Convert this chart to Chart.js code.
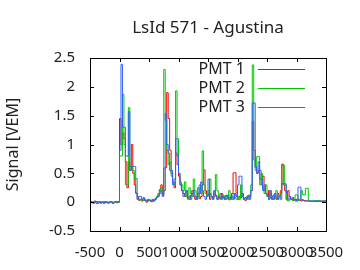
<!DOCTYPE html>
<html>
<head>
<meta charset="utf-8">
<script src="https://cdn.jsdelivr.net/npm/chart.js@4/dist/chart.umd.min.js"></script>
<style>
  body { margin: 0; background: #fff; }
</style>
</head>
<body>
<canvas id="trace" width="360" height="270"></canvas>
<script>
"use strict";

// trace bins: 25 ns wide, starting at -500 ns
let binWidth = 25;
let firstBin = -500;

let pmt1 = [
  0.01, -0.01, 0, 0.02, -0.02, 0, 0.01, -0.01, 0, -0.02, 0.01, 0, -0.02, 0, 0.01, -0.02, 0, 0.01, -0.01, 0,
  1.45, 1.0, 1.2, 1.1, 0.7, 0.25, 0.7, 0.55, 1.0, 0.5, 0.3, 0.15, 0.05, 0.03,
  0.05, 0.02, 0.06, 0.03, 0, 0.02, 0.04, 0.01, 0.03, 0.02, 0.05, 0.08, 0.12, 0.22,
  0.3, 0.12, 0.2, 0.6, 1.9, 1.45, 0.9, 0.5, 0.35, 0.25, 0.85, 0.65,
  0.45, 0.3, 0.2, 0.15, 0.1, 0.2, 0.08, 0.05, 0.12, 0.2, 0.1, 0.05, 0.08, 0.15, 0.06, 0.1, 0.3, 0.56, 0.2, 0.1,
  0.15, 0.05, 0.1, 0.08, 0.2, 0.12, 0.05, 0.1, 0.06, 0.15, 0.08, 0.05, 0.12, 0.1, 0.04, 0.08, 0.15, 0.51, 0.51, 0.1,
  0.05, 0.1, 0.08, 0.15, 0.05, 0.03, 0.08, 0.12, 0.1, 0.2, 1.4, 0.9, 0.6, 0.5, 0.55, 0.4, 0.3, 0.45, 0.2, 0.15,
  0.1, 0.2, 0.08, 0.05, 0.12, 0.1, 0.05, 0.15, 0.1, 0.2, 0.66, 0.3, 0.2, 0.05, 0.2, 0.1, 0.05, 0.08, 0.03, 0.05,
  0.02, 0.05, 0.03, 0.02, 0.04, 0.02, 0.03, 0.02, 0.02, 0.01, 0.02, 0.01, 0.02, 0.01, 0.01, 0.02, 0.01, 0.01, 0.02, 0.01
];

let pmt2 = [
  0, 0.01, -0.01, 0, 0.01, -0.02, 0, 0.01, 0, -0.01, 0, 0.01, -0.01, 0, 0.01, 0, -0.01, 0, 0.01, 0,
  0.8, 0.8, 1.87, 1.0, 0.3, 0.3, 1.64, 0.62, 0.62, 0.55, 0.41, 0.41, 0.1, 0.05,
  0.04, 0.02, 0.03, 0.05, 0.01, 0.02, 0.03, 0.02, 0.01, 0.04, 0.06, 0.1, 0.15, 0.18,
  0.25, 0.15, 2.3, 1.42, 0.9, 0.65, 0.69, 0.45, 0.35, 0.3, 1.93, 1.1,
  0.5, 0.35, 0.3, 0.2, 0.35, 0.1, 0.05, 0.25, 0.15, 0.1, 0.4, 0.2, 0.05, 0.1, 0.3, 0.15, 0.89, 0.3, 0.15, 0.1,
  0.2, 0.4, 0.1, 0.05, 0.15, 0.48, 0.2, 0.1, 0.05, 0.08, 0.12, 0.05, 0.1, 0.06, 0.2, 0.1, 0.05, 0.15, 0.08, 0.05,
  0.1, 0.05, 0.3, 0.1, 0.05, 0.08, 0.1, 0.05, 0.12, 0.3, 2.38, 0.73, 0.55, 0.79, 0.79, 0.3, 0.5, 0.25, 0.15, 0.3,
  0.1, 0.05, 0.15, 0.08, 0.05, 0.1, 0.2, 0.05, 0.1, 0.15, 0.64, 0.64, 0.3, 0.04, 0.02, 0.04, 0.05, 0.03, 0.04, 0.125,
  0.125, 0.03, 0.05, 0.2, 0.13, 0.13, 0.24, 0.24, 0.03, 0.02, 0.02, 0.02, 0.03, 0.03, 0.03, 0.03, 0.02, 0.02, 0.02, 0.02
];

let pmt3 = [
  -0.01, 0, -0.02, 0, 0.01, -0.01, 0, -0.02, 0, 0.01, -0.01, 0, -0.01, 0.01, 0, -0.02, 0, 0.01, 0, 0.01,
  0.9, 2.39, 1.3, 1.3, 0.8, 0.8, 1.57, 0.55, 0.62, 0.62, 0.62, 0.16, 0.05, 0.1,
  0.1, 0.05, 0.08, 0.03, 0.02, 0.05, 0.03, 0.02, 0.05, 0.03, 0.06, 0.08, 0.1, 0.15,
  0.2, 0.1, 0.59, 1.54, 1.0, 0.85, 0.55, 0.55, 0.3, 0.4, 1.1, 0.8,
  0.5, 0.3, 0.2, 0.1, 0.15, 0.2, 0.08, 0.1, 0.05, 0.15, 0.2, 0.1, 0.05, 0.25, 0.15, 0.35, 0.2, 0.1, 0.05, 0.1,
  0.4, 0.15, 0.1, 0.05, 0.2, 0.1, 0.05, 0.08, 0.15, 0.05, 0.1, 0.06, 0.05, 0.12, 0.08, 0.05, 0.1, 0.05, 0.15, 0.1,
  0.3, 0.45, 0.45, 0.1, 0.05, 0.08, 0.05, 0.1, 0.05, 0.2, 1.72, 1.72, 0.62, 0.5, 0.7, 0.55, 0.4, 0.2, 0.3, 0.15,
  0.1, 0.05, 0.2, 0.1, 0.05, 0.15, 0.08, 0.05, 0.1, 0.05, 0.32, 0.32, 0.32, 0.17, 0.05, 0.1, 0.05, 0.05, 0.05, 0.02,
  0.05, 0.26, 0.26, 0.05, 0.03, 0.02, 0.02, 0.02, 0.02, 0.02, 0.02, 0.02, 0.02, 0.02, 0.02, 0.02, 0.02, 0.02, 0.02, 0.02
];

let seriesNames = ["PMT 1", "PMT 2", "PMT 3"];
let seriesColors = ["#ff0000", "#00c800", "#3060ff"];
let chartTitle = "LsId 571 - Agustina";

let xMin = -500, xMax = 3500, xStep = 500;
let yMin = -0.5, yMax = 2.5, yStep = 0.5;

let fontName = "'Noto Sans', sans-serif";
let textColor = "#222";

// histogram points: one per bin start, plus closing point at the end
function toPoints(values) {
  let pts = [];
  for (let i = 0; i < values.length; i++) {
    pts.push({ x: firstBin + i * binWidth, y: values[i] });
  }
  pts.push({ x: firstBin + values.length * binWidth, y: values[values.length - 1] });
  return pts;
}

// gnuplot style frame, mirrored inward ticks, key and title over the plot
const frameAndKey = {
  id: "frameAndKey",
  afterDatasetsDraw(chart) {
    const ctx = chart.ctx;
    const a = chart.chartArea;
    const xs = chart.scales.x, ys = chart.scales.y;
    const t = 4;
    ctx.save();
    ctx.strokeStyle = "#000";
    ctx.lineWidth = 1;
    ctx.beginPath();
    xs.ticks.forEach(tk => {
      const px = Math.round(xs.getPixelForValue(tk.value)) + 0.5;
      ctx.moveTo(px, a.bottom); ctx.lineTo(px, a.bottom - t);
      ctx.moveTo(px, a.top); ctx.lineTo(px, a.top + t);
    });
    ys.ticks.forEach(tk => {
      const py = Math.round(ys.getPixelForValue(tk.value)) + 0.5;
      ctx.moveTo(a.left, py); ctx.lineTo(a.left + t, py);
      ctx.moveTo(a.right, py); ctx.lineTo(a.right - t, py);
    });
    ctx.stroke();
    ctx.strokeRect(Math.round(a.left) + 0.5, Math.round(a.top) + 0.5,
      Math.round(a.right - a.left), Math.round(a.bottom - a.top));
    ctx.restore();

    ctx.save();
    ctx.fillStyle = textColor;
    ctx.textBaseline = "middle";
    ctx.font = "17px " + fontName;
    ctx.textAlign = "center";
    ctx.fillText(chartTitle, (a.left + a.right) / 2, 28);

    // key, top right inside the frame
    ctx.font = "16px " + fontName;
    ctx.textAlign = "right";
    for (let i = 0; i < seriesNames.length; i++) {
      const y = Math.round(a.top + 11 + i * 19);
      ctx.fillText(seriesNames[i], a.left + 155, y);
    }
    ctx.restore();

    for (let i = 0; i < seriesNames.length; i++) {
      const y = Math.round(a.top + 11 + i * 19) + 0.5;
      ctx.save();
      ctx.lineWidth = 1;
      ctx.strokeStyle = seriesColors[i];
      ctx.beginPath();
      ctx.moveTo(a.left + 168, y);
      ctx.lineTo(a.left + 215, y);
      ctx.stroke();
      ctx.restore();
    }
  }
};

new Chart(document.getElementById("trace"), {
  type: "line",
  data: {
    datasets: seriesNames.map((name, i) => ({
      label: name,
      data: toPoints([pmt1, pmt2, pmt3][i]),
      borderColor: seriesColors[i],
      borderWidth: 1,
      pointRadius: 0,
      stepped: true,
      fill: false,
      order: 2 - i
    }))
  },
  options: {
    responsive: false,
    animation: false,
    events: [],
    layout: { padding: { left: 0, right: 34, top: 58, bottom: 0 } },
    plugins: {
      legend: { display: false },
      tooltip: { enabled: false },
      title: { display: false }
    },
    scales: {
      x: {
        type: "linear",
        min: xMin,
        max: xMax,
        grid: { display: false, drawTicks: false },
        border: { display: false },
        afterFit: s => { s.height = 39; },
        ticks: {
          stepSize: xStep,
          autoSkip: false,
          maxRotation: 0,
          padding: 13,
          color: textColor,
          font: { family: fontName, size: 15 },
          callback: v => String(v)
        }
      },
      y: {
        min: yMin,
        max: yMax,
        grid: { display: false, drawTicks: false },
        border: { display: false },
        afterFit: s => { s.width = 90; },
        title: {
          display: true,
          text: "Signal [VEM]",
          color: textColor,
          font: { family: fontName, size: 16 },
          padding: { top: 4, bottom: 0 }
        },
        ticks: {
          stepSize: yStep,
          autoSkip: false,
          padding: 15,
          color: textColor,
          font: { family: fontName, size: 15 },
          callback: v => String(+v.toFixed(1))
        }
      }
    }
  },
  plugins: [frameAndKey]
});
</script>
</body>
</html>
